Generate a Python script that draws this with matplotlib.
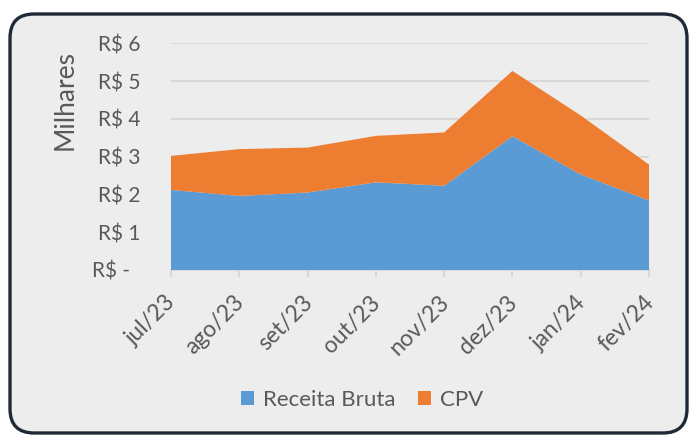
import matplotlib
matplotlib.use("Agg")
import matplotlib.pyplot as plt
from matplotlib.patches import FancyBboxPatch, Patch
import numpy as np

meses = ["jul/23", "ago/23", "set/23", "out/23", "nov/23", "dez/23", "jan/24", "fev/24"]
receita_bruta = [2.12, 1.96, 2.05, 2.32, 2.23, 3.54, 2.53, 1.84]
cpv = [0.90, 1.24, 1.19, 1.23, 1.41, 1.73, 1.56, 0.95]
yticks = [0, 1, 2, 3, 4, 5, 6]
ytick_labels = ["R$ -  ", "R$ 1", "R$ 2", "R$ 3", "R$ 4", "R$ 5", "R$ 6"]

azul = "#5b9bd5"
laranja = "#ed7d31"
cinza_txt = "#595959"
fundo = "#ededed"

plt.rcParams["font.family"] = ["Lato", "DejaVu Sans"]

fig = plt.figure(figsize=(6.9, 4.36), dpi=100)
fig.patch.set_facecolor("white")

# moldura arredondada
caixa = FancyBboxPatch((10 / 690, 3 / 436), 677 / 690, 419 / 436,
                       boxstyle="round,pad=0,rounding_size=0.035",
                       transform=fig.transFigure, facecolor=fundo,
                       edgecolor="#1f2a36", linewidth=2.4, zorder=-10,
                       mutation_aspect=690 / 436)
fig.patches.append(caixa)

ax = fig.add_axes([171 / 690, 1 - 270 / 436, (649 - 171) / 690, (270 - 43.3) / 436])
ax.set_facecolor(fundo)

x = np.arange(len(meses))
ax.stackplot(x, receita_bruta, cpv, colors=[azul, laranja], linewidth=0, zorder=3)

ax.set_xlim(0, len(meses) - 1)
ax.set_ylim(0, 6)
ax.set_yticks(yticks)
ax.set_yticklabels(ytick_labels)
ax.yaxis.grid(True, color="#d9d9d9", linewidth=1.5, zorder=0)
ax.set_axisbelow(True)

ax.set_xticks(x)
ax.tick_params(axis="x", labelbottom=False)
# rótulos do eixo x desenhados à mão, para acertar a posição
for xi, mes in zip(x, meses):
    ax.annotate(mes, xy=(xi, 0), xycoords=("data", "axes fraction"),
                xytext=(1, -21), textcoords="offset points",
                rotation=45, ha="right", va="center", rotation_mode="anchor",
                fontsize=16.5, color=cinza_txt, annotation_clip=False)

for s in ["top", "right", "left"]:
    ax.spines[s].set_visible(False)
ax.spines["bottom"].set_color("#d9d9d9")
ax.spines["bottom"].set_linewidth(1.5)

ax.tick_params(axis="y", length=0, pad=22, labelsize=15, labelcolor=cinza_txt)
ax.tick_params(axis="x", length=5, width=1.5, color="#d9d9d9")

ax.set_ylabel("Milhares", fontsize=19, color=cinza_txt)
ax.yaxis.set_label_coords(-0.195, 0.75)

handles = [Patch(facecolor=azul, label="Receita Bruta"),
           Patch(facecolor=laranja, label="CPV")]
fig.legend(handles=handles, loc="center", bbox_to_anchor=(0.525, 0.083), ncol=2,
           frameon=False, fontsize=16, labelcolor=cinza_txt,
           handlelength=0.6, handleheight=0.6, handletextpad=0.4, columnspacing=1.0)

fig.savefig("out.png", dpi=100, facecolor=fig.get_facecolor())
